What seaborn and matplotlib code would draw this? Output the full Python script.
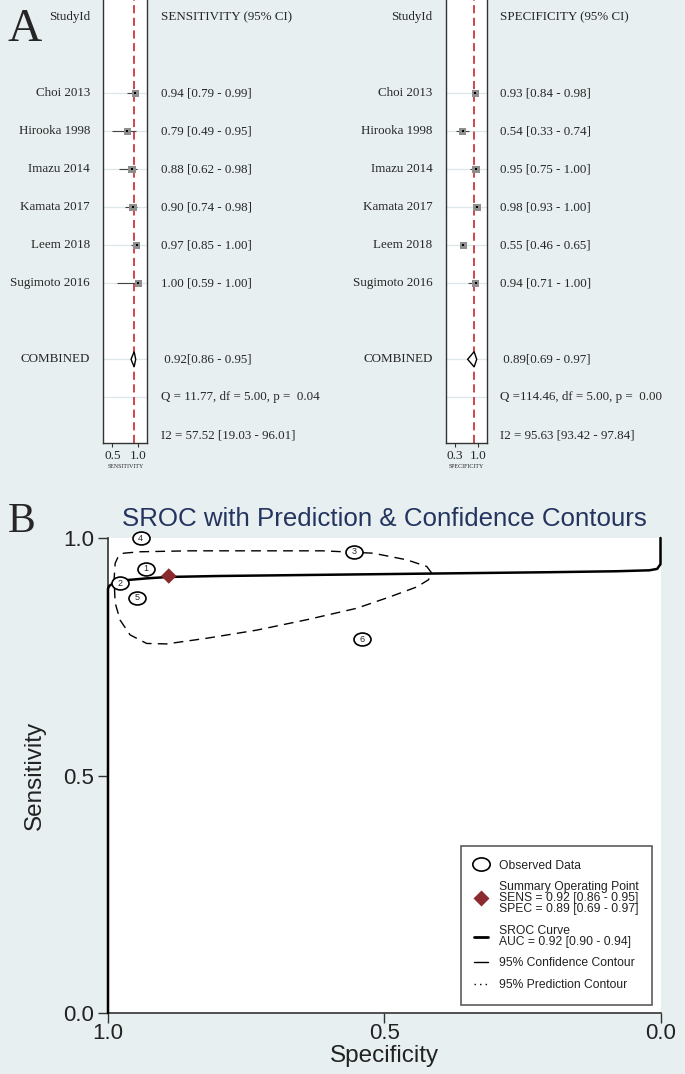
import numpy as np
import pandas as pd
import matplotlib
matplotlib.use('Agg')
import matplotlib.pyplot as plt
import seaborn as sns
from matplotlib.path import Path
from matplotlib.transforms import Affine2D
from matplotlib.lines import Line2D

# ---- data: forest plots (panel A)
studies = ['Choi 2013', 'Hirooka 1998', 'Imazu 2014', 'Kamata 2017', 'Leem 2018', 'Sugimoto 2016']
sens = [0.94, 0.79, 0.88, 0.90, 0.97, 1.00]
sens_lo = [0.79, 0.49, 0.62, 0.74, 0.85, 0.59]
sens_hi = [0.99, 0.95, 0.98, 0.98, 1.00, 1.00]
spec = [0.93, 0.54, 0.95, 0.98, 0.55, 0.94]
spec_lo = [0.84, 0.33, 0.75, 0.93, 0.46, 0.71]
spec_hi = [0.98, 0.74, 1.00, 1.00, 0.65, 1.00]
sens_pooled = [0.92, 0.86, 0.95]
spec_pooled = [0.89, 0.69, 0.97]
sens_stats = ['Q = 11.77, df = 5.00, p =  0.04', 'I2 = 57.52 [19.03 - 96.01]']
spec_stats = ['Q =114.46, df = 5.00, p =  0.00', 'I2 = 95.63 [93.42 - 97.84]']

# ---- data: SROC (panel B)
obs_id = ['1', '2', '3', '4', '5', '6']
obs_spec = [0.931, 0.978, 0.554, 0.941, 0.948, 0.540]
obs_sens = [0.935, 0.905, 0.971, 0.999, 0.874, 0.787]
sum_spec = 0.89
sum_sens = 0.92
curve_spec = [1.0, 1.0, 0.998, 0.99, 0.97, 0.93, 0.89, 0.80, 0.65, 0.50, 0.35, 0.20, 0.08, 0.02, 0.006, 0.0, 0.0]
curve_sens = [0.0, 0.893, 0.899, 0.905, 0.911, 0.915, 0.918, 0.920, 0.922, 0.924, 0.926, 0.928, 0.930, 0.932, 0.935, 0.945, 1.0]
cont_spec = [0.972, 0.942, 0.852, 0.731, 0.611, 0.520, 0.459, 0.423, 0.414, 0.420, 0.441, 0.490, 0.550,
             0.640, 0.731, 0.821, 0.894, 0.930, 0.960, 0.978, 0.987, 0.989, 0.987, 0.981, 0.972]
cont_sens = [0.968, 0.971, 0.973, 0.973, 0.973, 0.968, 0.954, 0.940, 0.926, 0.912, 0.897, 0.876, 0.852,
             0.828, 0.806, 0.789, 0.777, 0.778, 0.796, 0.827, 0.863, 0.912, 0.947, 0.962, 0.968]

W, H = 685, 1074
BG = '#e8eff1'
sns.set_theme(style='white')
plt.rcParams['font.family'] = ['Liberation Serif', 'DejaVu Serif']

fig = plt.figure(figsize=(W / 100, H / 100), dpi=100, facecolor=BG)


def fx(px):
    return px / W


def fy(py):
    return 1 - py / H


def forest(left_px, right_px, est, lo, hi, pooled, stats, ticks, xlim, head, xlab, lab_px, txt_px):
    ax = fig.add_axes([fx(left_px), fy(442.7), fx(right_px - left_px), 442.7 / H])
    ax.set_facecolor('white')
    ax.set_xlim(xlim)
    ax.set_ylim(11.195, -0.455)
    rows = np.arange(2, 2 + len(studies))
    for r in list(rows) + [9, 10]:
        ax.axhline(r, color='#dce7e9', lw=0.9, zorder=0)
    ax.axvline(pooled[0], color='#cf3640', ls=(0, (4.5, 2.5)), lw=1.3, zorder=2)
    ax.hlines(rows, lo, hi, color='#444444', lw=0.8, zorder=3)
    df = pd.DataFrame({'est': est, 'row': rows})
    sns.scatterplot(data=df, x='est', y='row', marker='s', s=27, color='#8e8e8e',
                    edgecolor='none', ax=ax, zorder=4, legend=False)
    sns.scatterplot(data=df, x='est', y='row', marker='s', s=2.2, color='black',
                    edgecolor='none', ax=ax, zorder=5, legend=False)
    p, plo, phi = pooled
    ax.fill([plo, p, phi, p], [9, 9 - 0.2, 9, 9 + 0.2], facecolor='white',
            edgecolor='black', lw=1.0, zorder=4)
    ax.set_xticks(ticks)
    ax.set_xticklabels([f'{t:.1f}' for t in ticks], fontsize=9.5)
    ax.set_yticks([])
    ax.set_xlabel(xlab, fontsize=4.3, labelpad=1.5)
    ax.set_ylabel('')
    ax.tick_params(axis='x', bottom=True, length=3, width=0.8, pad=2.5, color='#333')
    for s in ['left', 'right', 'bottom']:
        ax.spines[s].set_color('#333333')
        ax.spines[s].set_linewidth(1.0)
    ax.spines['top'].set_visible(False)

    def ypx(r):
        return fy(17.3 + 38.0 * r)

    fig.text(fx(lab_px), ypx(0), 'StudyId', ha='right', va='center', fontsize=9.4)
    fig.text(fx(txt_px), ypx(0), head, ha='left', va='center', fontsize=9.4)
    for i, name in enumerate(studies):
        fig.text(fx(lab_px), ypx(2 + i), name, ha='right', va='center', fontsize=9.4)
        fig.text(fx(txt_px), ypx(2 + i), f'{est[i]:.2f} [{lo[i]:.2f} - {hi[i]:.2f}]',
                 ha='left', va='center', fontsize=9.4)
    fig.text(fx(lab_px), ypx(9), 'COMBINED', ha='right', va='center', fontsize=9.4)
    fig.text(fx(txt_px), ypx(9), f' {p:.2f}[{plo:.2f} - {phi:.2f}]', ha='left', va='center', fontsize=9.4)
    fig.text(fx(txt_px), ypx(10), stats[0], ha='left', va='center', fontsize=9.4)
    fig.text(fx(txt_px), ypx(11), stats[1], ha='left', va='center', fontsize=9.4)
    return ax


forest(103.3, 147.3, sens, sens_lo, sens_hi, sens_pooled, sens_stats, [0.5, 1.0], (0.327, 1.173),
       'SENSITIVITY (95% CI)', 'SENSITIVITY', 90, 161)
forest(446, 486.7, spec, spec_lo, spec_hi, spec_pooled, spec_stats, [0.3, 1.0], (0.022, 1.278),
       'SPECIFICITY (95% CI)', 'SPECIFICITY', 432.5, 500)

fig.text(fx(8), fy(40.7), 'A', fontsize=34, va='baseline', ha='left')
fig.text(fx(8), fy(532), 'B', fontsize=30, va='baseline', ha='left')

# ---- panel B: SROC
sans = ['Liberation Sans', 'DejaVu Sans']
ax = fig.add_axes([fx(108), fy(1013), fx(552.5), 475 / H])
ax.set_facecolor('white')
ax.set_xlim(1.0, 0.0)
ax.set_ylim(0.0, 1.0)

cont = pd.DataFrame({'spec': cont_spec, 'sens': cont_sens})
sns.lineplot(data=cont, x='spec', y='sens', sort=False, estimator=None, color='black',
             lw=1.0, ax=ax, zorder=2)
ax.lines[-1].set_dashes((7, 4.5))
curve = pd.DataFrame({'spec': curve_spec, 'sens': curve_sens})
sns.lineplot(data=curve, x='spec', y='sens', sort=False, estimator=None, color='black',
             lw=1.8, ax=ax, zorder=3, clip_on=False)

ell = Path.unit_circle().transformed(Affine2D().scale(1.0, 0.76))
obs = pd.DataFrame({'spec': obs_spec, 'sens': obs_sens})
sns.scatterplot(data=obs, x='spec', y='sens', marker=ell, s=150, facecolor='white',
                edgecolor='black', linewidth=1.2, ax=ax, zorder=4, clip_on=False, legend=False)
for i, t in enumerate(obs_id):
    ax.text(obs_spec[i], obs_sens[i], t, ha='center', va='center', fontsize=6.5,
            family=sans, zorder=5, clip_on=False)
sns.scatterplot(x=[sum_spec], y=[sum_sens], marker='D', s=62, color='#8b2b2f',
                edgecolor='none', ax=ax, zorder=5, legend=False)

ax.set_xticks([1.0, 0.5, 0.0])
ax.set_xticklabels(['1.0', '0.5', '0.0'])
ax.set_yticks([0.0, 0.5, 1.0])
ax.set_yticklabels(['0.0', '0.5', '1.0'])
for lab in ax.get_xticklabels() + ax.get_yticklabels():
    lab.set_family(sans)
    lab.set_fontsize(16)
    lab.set_color('#222222')
ax.tick_params(axis='both', length=7, width=1.0, color='#333333', direction='out')
ax.tick_params(axis='x', bottom=True, pad=0)
ax.tick_params(axis='y', left=True, pad=3)
ax.set_xlabel('Specificity', family=sans, fontsize=17.5, color='#222222')
ax.set_ylabel('Sensitivity', family=sans, fontsize=17.5, color='#222222')
ax.xaxis.set_label_coords(0.5, -0.068)
ax.yaxis.set_label_coords(-0.112, 0.5)
for s in ['top', 'right']:
    ax.spines[s].set_visible(False)
for s in ['left', 'bottom']:
    ax.spines[s].set_color('#333333')
    ax.spines[s].set_linewidth(1.2)

fig.text(fx(384.6), fy(519), 'SROC with Prediction & Confidence Contours', ha='center',
         va='center', fontsize=18.6, color='#24345f', family=sans)

handles = [
    Line2D([], [], ls='none', marker=ell, markersize=12.5, mfc='white', mec='black', mew=1.2),
    Line2D([], [], ls='none', marker='D', markersize=8, mfc='#8b2b2f', mec='none'),
    Line2D([], [], color='black', lw=2.0),
    Line2D([], [], color='black', lw=1.0),
    Line2D([], [], color='black', lw=1.0, ls=(0, (1, 3))),
]
labels = ['Observed Data',
          'Summary Operating Point\nSENS = 0.92 [0.86 - 0.95]\nSPEC = 0.89 [0.69 - 0.97]',
          'SROC Curve\nAUC = 0.92 [0.90 - 0.94]',
          '95% Confidence Contour',
          '95% Prediction Contour']
leg = ax.legend(handles, labels, loc='lower right', bbox_to_anchor=(0.985, 0.017),
                borderaxespad=0, frameon=True, fancybox=False, handlelength=1.1,
                handletextpad=0.9, labelspacing=0.8, borderpad=1.15,
                prop={'family': 'Liberation Sans', 'size': 8.7})
leg.get_frame().set_edgecolor('#333333')
leg.get_frame().set_linewidth(1.2)
for t in leg.get_texts():
    t.set_linespacing(0.88)
    t.set_color('#222222')

fig.savefig('out.png', dpi=100, facecolor=BG)
